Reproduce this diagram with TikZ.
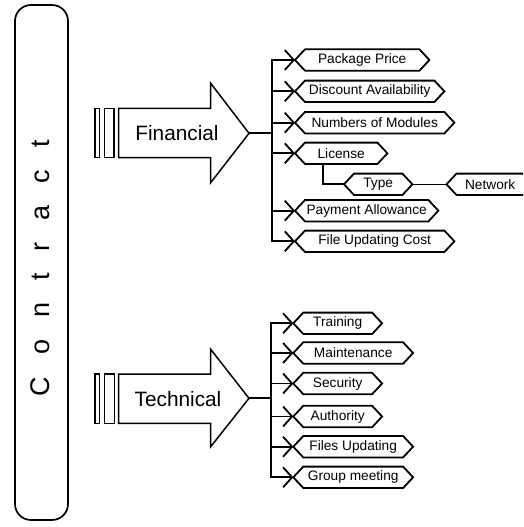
\documentclass[tikz,border=0pt]{standalone}
\usepackage{fontspec}
\setmainfont{Liberation Sans}
\usetikzlibrary{arrows.meta}
\newcommand\lsgap{\hspace{22pt}}
\tikzset{
  hexline/.style={draw, line width=1.8pt, line join=miter},
  hexbox/.style={minimum width=#1, minimum height=21pt, inner sep=0pt, anchor=west,
    font=\fontsize{13.7}{15}\selectfont,
    append after command={\pgfextra{\draw[hexline] (\tikzlastnode.west)
      -- ([xshift=10pt]\tikzlastnode.north west) -- ([xshift=-10pt]\tikzlastnode.north east)
      -- (\tikzlastnode.east) -- ([xshift=-10pt]\tikzlastnode.south east)
      -- ([xshift=10pt]\tikzlastnode.south west) -- cycle;}}},
  bigarrow/.style={draw, line width=1.5pt, line join=miter, fill=white},
  barbox/.style={draw, line width=1.5pt},
  trunk/.style={line width=2pt, line cap=rect},
  branch/.style={line width=1.8pt, -{Straight Barb[length=9pt,width=20pt]}},
  link/.style={line width=1.8pt},
  bigtext/.style={font=\fontsize{20.8}{24}\selectfont},
}
\begin{document}
\begin{tikzpicture}[x=1pt,y=-1pt]
\useasboundingbox (0,0) rectangle (523,527);
\clip (0,0) rectangle (523,527);

% Contract column
\draw[line width=1.7pt, rounded corners=16pt] (15,5) rectangle (68,520);
\node[rotate=90, font=\fontsize{27}{30}\selectfont, inner sep=0pt] (contract) at (40,268)
  {C\lsgap o\lsgap n\lsgap t\lsgap r\lsgap a\lsgap c\lsgap t};

% Financial block arrow
\draw[barbox] (95,108.3) rectangle (99.3,157.7);
\draw[barbox] (104.7,108.3) rectangle (114,157.7);
\draw[bigarrow] (118.7,108.3) -- (210.7,108.3) -- (210.7,83.3) -- (249,133.3)
  -- (210.7,182.7) -- (210.7,157.7) -- (118.7,157.7) -- cycle;
\node[bigtext] (fin) at (177,133) {Financial};
\coordinate (ftip) at (249,133.3);
\coordinate (fT) at (271.5,133.3);

\node[hexbox=134pt] (pp) at (295,60) {Package Price};
\node[hexbox=149pt] (da) at (295,91.3) {Discount Availability};
\node[hexbox=159pt] (nm) at (295,122.7) {Numbers of Modules};
\node[hexbox=92pt] (lic) at (295,153.3) {License};
\node[hexbox=68pt] (type) at (344,184.3) {Type};
\node[hexbox=87pt] (net) at (446.5,184.3) {Network};
\node[hexbox=143pt] (pa) at (295,210.7) {Payment Allowance};
\node[hexbox=159pt] (fuc) at (295,241.3) {File Updating Cost};

\draw[link] (ftip) -- (fT);
\draw[trunk] (fT |- pp.west) -- (fT |- fuc.west);
\foreach \n in {pp,da,nm,lic,pa,fuc}
  \draw[branch] (fT |- \n.west) -- (\n.west);
\draw[link] ([xshift=27.7pt]lic.south west) |- (type.west);
\draw[line width=1.5pt] (type.east) -- (net.west);

% Technical block arrow
\draw[barbox] (95,374) rectangle (99.3,423.3);
\draw[barbox] (104.7,374) rectangle (114.3,423.3);
\draw[bigarrow] (118.7,374) -- (210.7,374) -- (210.7,349.3) -- (249,398.3)
  -- (210.7,446.7) -- (210.7,423.3) -- (118.7,423.3) -- cycle;
\node[bigtext] (tech) at (178,399) {Technical};
\coordinate (ttip) at (249,398.3);
\coordinate (tT) at (271,398.3);

\node[hexbox=88.4pt] (tr) at (293.3,323.3) {Training};
\node[hexbox=119.4pt] (mt) at (293.3,353) {Maintenance};
\node[hexbox=88.4pt] (sec) at (293.3,383.5) {Security};
\node[hexbox=88.4pt] (au) at (293.3,416.5) {Authority};
\node[hexbox=119.4pt] (fu) at (293.3,446.7) {Files Updating};
\node[hexbox=119.4pt] (gm) at (293.3,477.3) {Group meeting};

\draw[link] (ttip) -- (tT);
\draw[trunk] (tT |- tr.west) -- (tT |- gm.west);
\foreach \n in {tr,mt,sec,au,fu,gm}
  \draw[branch] (tT |- \n.west) -- (\n.west);
\end{tikzpicture}
\end{document}
